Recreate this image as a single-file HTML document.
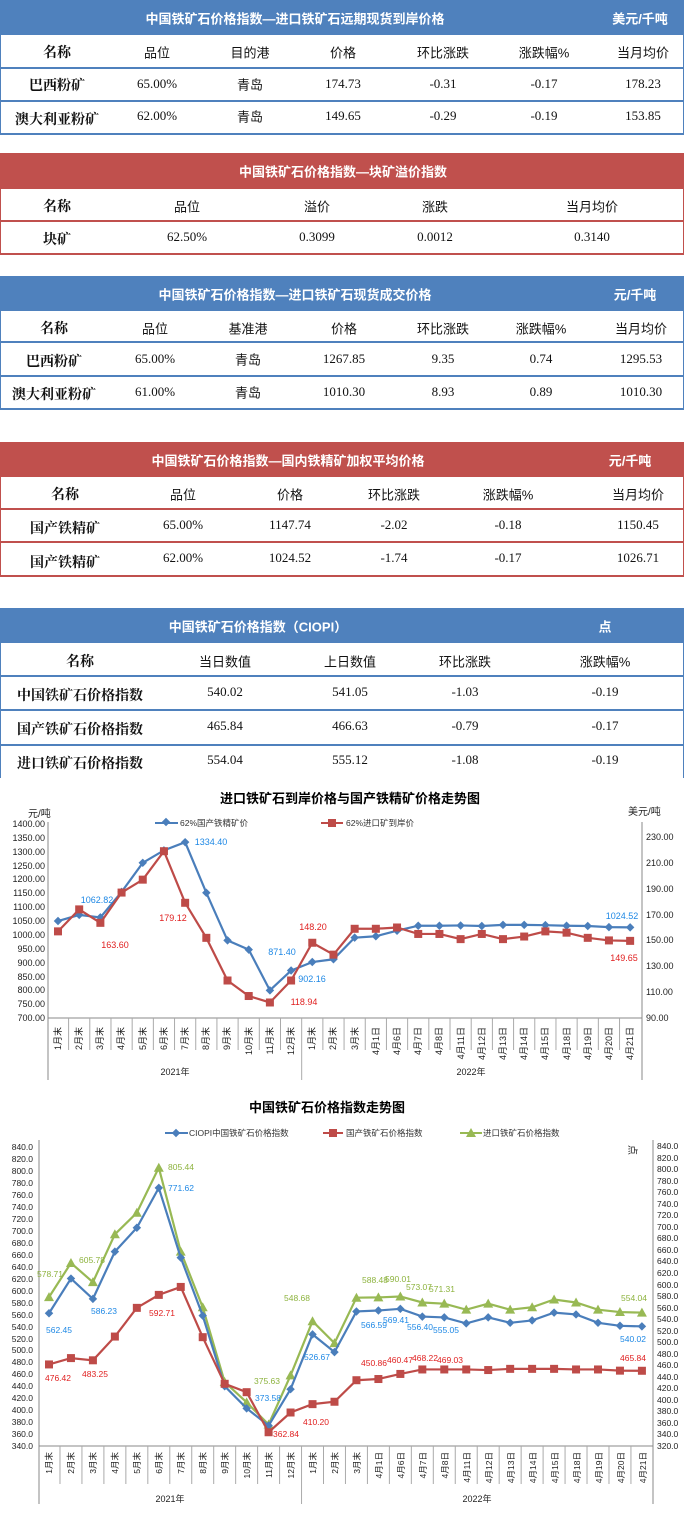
<!DOCTYPE html>
<html><head><meta charset="utf-8">
<style>
*{margin:0;padding:0;box-sizing:border-box}
body{width:684px;height:1524px;position:relative;background:#fff;font-family:"Liberation Sans","Noto Sans CJK SC",sans-serif;overflow:hidden}
.band{position:absolute;left:0;width:684px;color:#fff;font-weight:bold;font-size:13px}
.band span{position:absolute;top:50%;transform:translate(-50%,-50%);white-space:nowrap}
.b{background:#4F81BD}.r{background:#C0504D}
.hl{position:absolute;left:0;width:684px;height:2px}
.hb{background:#4F81BD}.hr{background:#C0504D}
.vl{position:absolute;width:1px}
.c{position:absolute;transform:translate(-50%,-50%);white-space:nowrap;font-size:13px;color:#111}
.bold{font-weight:bold;font-family:"Liberation Serif","Noto Serif CJK SC",serif;font-size:14px}
.num{font-family:"Liberation Serif","Noto Serif CJK SC",serif}
svg{position:absolute;left:0}
svg text{font-family:"Liberation Sans","Noto Sans CJK SC",sans-serif}
</style></head><body>

<!-- Table 1 -->
<div class="band b" style="top:0;height:35px"><span style="left:295px">中国铁矿石价格指数—进口铁矿石远期现货到岸价格</span><span style="left:640px">美元/千吨</span></div>
<div class="vl hb" style="left:0;top:35px;height:100px"></div><div class="vl hb" style="left:683px;top:35px;height:100px"></div>
<div class="hl hb" style="top:67px"></div><div class="hl hb" style="top:100px"></div><div class="hl hb" style="top:133px"></div>
<div class="c bold" style="left:57px;top:52px">名称</div><div class="c" style="left:157px;top:52px">品位</div><div class="c" style="left:250px;top:52px">目的港</div><div class="c" style="left:343px;top:52px">价格</div><div class="c" style="left:443px;top:52px">环比涨跌</div><div class="c" style="left:544px;top:52px">涨跌幅%</div><div class="c" style="left:643px;top:52px">当月均价</div>
<div class="c bold" style="left:57px;top:85px">巴西粉矿</div><div class="c num" style="left:157px;top:84px">65.00%</div><div class="c" style="left:250px;top:84px">青岛</div><div class="c num" style="left:343px;top:84px">174.73</div><div class="c num" style="left:443px;top:84px">-0.31</div><div class="c num" style="left:544px;top:84px">-0.17</div><div class="c num" style="left:643px;top:84px">178.23</div>
<div class="c bold" style="left:57px;top:119px">澳大利亚粉矿</div><div class="c num" style="left:157px;top:116px">62.00%</div><div class="c" style="left:250px;top:116px">青岛</div><div class="c num" style="left:343px;top:116px">149.65</div><div class="c num" style="left:443px;top:116px">-0.29</div><div class="c num" style="left:544px;top:116px">-0.19</div><div class="c num" style="left:643px;top:116px">153.85</div>

<!-- Table 2 -->
<div class="band r" style="top:153px;height:36px"><span style="left:343px">中国铁矿石价格指数—块矿溢价指数</span></div>
<div class="vl hr" style="left:0;top:189px;height:66px"></div><div class="vl hr" style="left:683px;top:189px;height:66px"></div>
<div class="hl hr" style="top:220px"></div><div class="hl hr" style="top:253px"></div>
<div class="c bold" style="left:57px;top:206px">名称</div><div class="c" style="left:187px;top:206px">品位</div><div class="c" style="left:317px;top:206px">溢价</div><div class="c" style="left:435px;top:206px">涨跌</div><div class="c" style="left:592px;top:206px">当月均价</div>
<div class="c bold" style="left:57px;top:239px">块矿</div><div class="c num" style="left:187px;top:237px">62.50%</div><div class="c num" style="left:317px;top:237px">0.3099</div><div class="c num" style="left:435px;top:237px">0.0012</div><div class="c num" style="left:592px;top:237px">0.3140</div>

<!-- Table 3 -->
<div class="band b" style="top:276px;height:35px"><span style="left:295px">中国铁矿石价格指数—进口铁矿石现货成交价格</span><span style="left:635px">元/千吨</span></div>
<div class="vl hb" style="left:0;top:311px;height:99px"></div><div class="vl hb" style="left:683px;top:311px;height:99px"></div>
<div class="hl hb" style="top:341px"></div><div class="hl hb" style="top:375px"></div><div class="hl hb" style="top:408px"></div>
<div class="c bold" style="left:54px;top:328px">名称</div><div class="c" style="left:155px;top:328px">品位</div><div class="c" style="left:248px;top:328px">基准港</div><div class="c" style="left:344px;top:328px">价格</div><div class="c" style="left:443px;top:328px">环比涨跌</div><div class="c" style="left:541px;top:328px">涨跌幅%</div><div class="c" style="left:641px;top:328px">当月均价</div>
<div class="c bold" style="left:54px;top:361px">巴西粉矿</div><div class="c num" style="left:155px;top:359px">65.00%</div><div class="c" style="left:248px;top:359px">青岛</div><div class="c num" style="left:344px;top:359px">1267.85</div><div class="c num" style="left:443px;top:359px">9.35</div><div class="c num" style="left:541px;top:359px">0.74</div><div class="c num" style="left:641px;top:359px">1295.53</div>
<div class="c bold" style="left:54px;top:394px">澳大利亚粉矿</div><div class="c num" style="left:155px;top:392px">61.00%</div><div class="c" style="left:248px;top:392px">青岛</div><div class="c num" style="left:344px;top:392px">1010.30</div><div class="c num" style="left:443px;top:392px">8.93</div><div class="c num" style="left:541px;top:392px">0.89</div><div class="c num" style="left:641px;top:392px">1010.30</div>

<!-- Table 4 -->
<div class="band r" style="top:442px;height:35px"><span style="left:288px">中国铁矿石价格指数—国内铁精矿加权平均价格</span><span style="left:630px">元/千吨</span></div>
<div class="vl hr" style="left:0;top:477px;height:100px"></div><div class="vl hr" style="left:683px;top:477px;height:100px"></div>
<div class="hl hr" style="top:508px"></div><div class="hl hr" style="top:541px"></div><div class="hl hr" style="top:575px"></div>
<div class="c bold" style="left:65px;top:494px">名称</div><div class="c" style="left:183px;top:494px">品位</div><div class="c" style="left:290px;top:494px">价格</div><div class="c" style="left:394px;top:494px">环比涨跌</div><div class="c" style="left:508px;top:494px">涨跌幅%</div><div class="c" style="left:638px;top:494px">当月均价</div>
<div class="c bold" style="left:65px;top:528px">国产铁精矿</div><div class="c num" style="left:183px;top:525px">65.00%</div><div class="c num" style="left:290px;top:525px">1147.74</div><div class="c num" style="left:394px;top:525px">-2.02</div><div class="c num" style="left:508px;top:525px">-0.18</div><div class="c num" style="left:638px;top:525px">1150.45</div>
<div class="c bold" style="left:65px;top:562px">国产铁精矿</div><div class="c num" style="left:183px;top:558px">62.00%</div><div class="c num" style="left:290px;top:558px">1024.52</div><div class="c num" style="left:394px;top:558px">-1.74</div><div class="c num" style="left:508px;top:558px">-0.17</div><div class="c num" style="left:638px;top:558px">1026.71</div>

<!-- Table 5 -->
<div class="band b" style="top:608px;height:35px"><span style="left:258px">中国铁矿石价格指数（CIOPI）</span><span style="left:605px">点</span></div>
<div class="vl hb" style="left:0;top:643px;height:135px"></div><div class="vl hb" style="left:683px;top:643px;height:135px"></div>
<div class="hl hb" style="top:675px"></div><div class="hl hb" style="top:709px"></div><div class="hl hb" style="top:744px"></div>
<div class="c bold" style="left:80px;top:661px">名称</div><div class="c" style="left:225px;top:661px">当日数值</div><div class="c" style="left:350px;top:661px">上日数值</div><div class="c" style="left:465px;top:661px">环比涨跌</div><div class="c" style="left:605px;top:661px">涨跌幅%</div>
<div class="c bold" style="left:80px;top:695px">中国铁矿石价格指数</div><div class="c num" style="left:225px;top:692px">540.02</div><div class="c num" style="left:350px;top:692px">541.05</div><div class="c num" style="left:465px;top:692px">-1.03</div><div class="c num" style="left:605px;top:692px">-0.19</div>
<div class="c bold" style="left:80px;top:729px">国产铁矿石价格指数</div><div class="c num" style="left:225px;top:726px">465.84</div><div class="c num" style="left:350px;top:726px">466.63</div><div class="c num" style="left:465px;top:726px">-0.79</div><div class="c num" style="left:605px;top:726px">-0.17</div>
<div class="c bold" style="left:80px;top:763px">进口铁矿石价格指数</div><div class="c num" style="left:225px;top:760px">554.04</div><div class="c num" style="left:350px;top:760px">555.12</div><div class="c num" style="left:465px;top:760px">-1.08</div><div class="c num" style="left:605px;top:760px">-0.19</div>

<!-- Chart 1 -->
<svg id="c1" width="684" height="310" viewBox="0 780 684 310" style="top:780px">
<text x="350" y="803" font-size="13" font-weight="bold" text-anchor="middle" fill="#000">进口铁矿石到岸价格与国产铁精矿价格走势图</text>
<text x="28" y="817" font-size="10" fill="#222">元/吨</text>
<text x="628" y="815" font-size="10" fill="#222">美元/吨</text>
<line x1="155" y1="823" x2="178" y2="823" stroke="#4A7EBB" stroke-width="2"/><rect x="163" y="819" width="6" height="6" transform="rotate(45 166 822)" fill="#4A7EBB"/>
<text x="180" y="826" font-size="8.5" fill="#333">62%国产铁精矿价</text>
<line x1="321" y1="823" x2="343" y2="823" stroke="#BE4B48" stroke-width="2"/><rect x="328" y="819" width="8" height="8" fill="#BE4B48"/>
<text x="346" y="826" font-size="8.5" fill="#333">62%进口矿到岸价</text>
<g font-size="9" fill="#222" text-anchor="end">
<text x="45" y="827">1400.00</text><text x="45" y="841">1350.00</text><text x="45" y="855">1300.00</text><text x="45" y="869">1250.00</text><text x="45" y="882">1200.00</text><text x="45" y="896">1150.00</text><text x="45" y="910">1100.00</text><text x="45" y="924">1050.00</text><text x="45" y="938">1000.00</text><text x="45" y="952">950.00</text><text x="45" y="966">900.00</text><text x="45" y="980">850.00</text><text x="45" y="993">800.00</text><text x="45" y="1007">750.00</text><text x="45" y="1021">700.00</text>
</g>
<g font-size="9" fill="#222">
<text x="646" y="840">230.00</text><text x="646" y="866">210.00</text><text x="646" y="892">190.00</text><text x="646" y="918">170.00</text><text x="646" y="943">150.00</text><text x="646" y="969">130.00</text><text x="646" y="995">110.00</text><text x="646" y="1021">90.00</text>
</g>
<g id="c1ax"></g>
<g font-size="9" fill="#222" id="c1cat" text-anchor="end">
<text transform="translate(61,1027) rotate(-90)">1月末</text><text transform="translate(82,1027) rotate(-90)">2月末</text><text transform="translate(103,1027) rotate(-90)">3月末</text><text transform="translate(124,1027) rotate(-90)">4月末</text><text transform="translate(146,1027) rotate(-90)">5月末</text><text transform="translate(167,1027) rotate(-90)">6月末</text><text transform="translate(188,1027) rotate(-90)">7月末</text><text transform="translate(209,1027) rotate(-90)">8月末</text><text transform="translate(230,1027) rotate(-90)">9月末</text><text transform="translate(252,1027) rotate(-90)">10月末</text><text transform="translate(273,1027) rotate(-90)">11月末</text><text transform="translate(294,1027) rotate(-90)">12月末</text><text transform="translate(315,1027) rotate(-90)">1月末</text><text transform="translate(336,1027) rotate(-90)">2月末</text><text transform="translate(358,1027) rotate(-90)">3月末</text><text transform="translate(379,1027) rotate(-90)">4月1日</text><text transform="translate(400,1027) rotate(-90)">4月6日</text><text transform="translate(421,1027) rotate(-90)">4月7日</text><text transform="translate(442,1027) rotate(-90)">4月8日</text><text transform="translate(464,1027) rotate(-90)">4月11日</text><text transform="translate(485,1027) rotate(-90)">4月12日</text><text transform="translate(506,1027) rotate(-90)">4月13日</text><text transform="translate(527,1027) rotate(-90)">4月14日</text><text transform="translate(548,1027) rotate(-90)">4月15日</text><text transform="translate(570,1027) rotate(-90)">4月18日</text><text transform="translate(591,1027) rotate(-90)">4月19日</text><text transform="translate(612,1027) rotate(-90)">4月20日</text><text transform="translate(633,1027) rotate(-90)">4月21日</text>
</g>
<text x="175" y="1075" font-size="9" fill="#222" text-anchor="middle">2021年</text>
<text x="471" y="1075" font-size="9" fill="#222" text-anchor="middle">2022年</text>
<g id="c1s"></g>
<g font-size="9" text-anchor="middle">
<text x="211" y="845" fill="#1E88E5">1334.40</text><text x="97" y="903" fill="#1E88E5">1062.82</text><text x="282" y="955" fill="#1E88E5">871.40</text><text x="312" y="982" fill="#1E88E5">902.16</text><text x="622" y="919" fill="#1E88E5">1024.52</text>
<text x="115" y="948" fill="#E02020">163.60</text><text x="173" y="921" fill="#E02020">179.12</text><text x="304" y="1005" fill="#E02020">118.94</text><text x="313" y="930" fill="#E02020">148.20</text><text x="624" y="961" fill="#E02020">149.65</text>
</g>
</svg>

<!-- Chart 2 -->
<svg id="c2" width="684" height="429" viewBox="0 1095 684 429" style="top:1095px">
<text x="327" y="1112" font-size="13" font-weight="bold" text-anchor="middle" fill="#000">中国铁矿石价格指数走势图</text>
<line x1="165" y1="1133" x2="188" y2="1133" stroke="#4A7EBB" stroke-width="2"/><rect x="173" y="1130" width="6" height="6" transform="rotate(45 176 1133)" fill="#4A7EBB"/>
<text x="189" y="1136" font-size="8.5" fill="#333">CIOPI中国铁矿石价格指数</text>
<line x1="323" y1="1133" x2="343" y2="1133" stroke="#BE4B48" stroke-width="2"/><rect x="329" y="1129" width="8" height="8" fill="#BE4B48"/>
<text x="346" y="1136" font-size="8.5" fill="#333">国产铁矿石价格指数</text>
<line x1="460" y1="1133" x2="482" y2="1133" stroke="#98B954" stroke-width="2"/><polygon points="471,1128 476,1137 466,1137" fill="#98B954"/>
<text x="483" y="1136" font-size="8.5" fill="#333">进口铁矿石价格指数</text>
<text x="0" y="0" font-size="10" fill="#222" transform="translate(629,1145) rotate(90)">点</text>
<g font-size="8.5" fill="#222" text-anchor="end">
<text x="33" y="1150">840.0</text><text x="33" y="1162">820.0</text><text x="33" y="1174">800.0</text><text x="33" y="1186">780.0</text><text x="33" y="1198">760.0</text><text x="33" y="1210">740.0</text><text x="33" y="1222">720.0</text><text x="33" y="1234">700.0</text><text x="33" y="1246">680.0</text><text x="33" y="1258">660.0</text><text x="33" y="1270">640.0</text><text x="33" y="1282">620.0</text><text x="33" y="1294">600.0</text><text x="33" y="1306">580.0</text><text x="33" y="1318">560.0</text><text x="33" y="1330">540.0</text><text x="33" y="1342">520.0</text><text x="33" y="1353">500.0</text><text x="33" y="1365">480.0</text><text x="33" y="1377">460.0</text><text x="33" y="1389">440.0</text><text x="33" y="1401">420.0</text><text x="33" y="1413">400.0</text><text x="33" y="1425">380.0</text><text x="33" y="1437">360.0</text><text x="33" y="1449">340.0</text>
</g>
<g font-size="8.5" fill="#222">
<text x="657" y="1149">840.0</text><text x="657" y="1161">820.0</text><text x="657" y="1172">800.0</text><text x="657" y="1184">780.0</text><text x="657" y="1195">760.0</text><text x="657" y="1207">740.0</text><text x="657" y="1218">720.0</text><text x="657" y="1230">700.0</text><text x="657" y="1241">680.0</text><text x="657" y="1253">660.0</text><text x="657" y="1264">640.0</text><text x="657" y="1276">620.0</text><text x="657" y="1288">600.0</text><text x="657" y="1299">580.0</text><text x="657" y="1311">560.0</text><text x="657" y="1322">540.0</text><text x="657" y="1334">520.0</text><text x="657" y="1345">500.0</text><text x="657" y="1357">480.0</text><text x="657" y="1368">460.0</text><text x="657" y="1380">440.0</text><text x="657" y="1391">420.0</text><text x="657" y="1403">400.0</text><text x="657" y="1414">380.0</text><text x="657" y="1426">360.0</text><text x="657" y="1437">340.0</text><text x="657" y="1449">320.0</text>
</g>
<g id="c2ax"></g>
<g font-size="8.5" fill="#222" text-anchor="end">
<text transform="translate(52,1452) rotate(-90)">1月末</text><text transform="translate(74,1452) rotate(-90)">2月末</text><text transform="translate(96,1452) rotate(-90)">3月末</text><text transform="translate(118,1452) rotate(-90)">4月末</text><text transform="translate(140,1452) rotate(-90)">5月末</text><text transform="translate(162,1452) rotate(-90)">6月末</text><text transform="translate(184,1452) rotate(-90)">7月末</text><text transform="translate(206,1452) rotate(-90)">8月末</text><text transform="translate(228,1452) rotate(-90)">9月末</text><text transform="translate(250,1452) rotate(-90)">10月末</text><text transform="translate(272,1452) rotate(-90)">11月末</text><text transform="translate(294,1452) rotate(-90)">12月末</text><text transform="translate(316,1452) rotate(-90)">1月末</text><text transform="translate(338,1452) rotate(-90)">2月末</text><text transform="translate(360,1452) rotate(-90)">3月末</text><text transform="translate(382,1452) rotate(-90)">4月1日</text><text transform="translate(404,1452) rotate(-90)">4月6日</text><text transform="translate(426,1452) rotate(-90)">4月7日</text><text transform="translate(448,1452) rotate(-90)">4月8日</text><text transform="translate(470,1452) rotate(-90)">4月11日</text><text transform="translate(492,1452) rotate(-90)">4月12日</text><text transform="translate(514,1452) rotate(-90)">4月13日</text><text transform="translate(536,1452) rotate(-90)">4月14日</text><text transform="translate(558,1452) rotate(-90)">4月15日</text><text transform="translate(580,1452) rotate(-90)">4月18日</text><text transform="translate(602,1452) rotate(-90)">4月19日</text><text transform="translate(624,1452) rotate(-90)">4月20日</text><text transform="translate(646,1452) rotate(-90)">4月21日</text>
</g>
<text x="170" y="1502" font-size="9" fill="#222" text-anchor="middle">2021年</text>
<text x="477" y="1502" font-size="9" fill="#222" text-anchor="middle">2022年</text>
<g id="c2s"></g>
<g font-size="8.5" text-anchor="middle">
<g fill="#8DB33E"><text x="50" y="1277">578.71</text><text x="92" y="1263">605.78</text><text x="181" y="1170">805.44</text><text x="267" y="1384">375.63</text><text x="297" y="1301">548.68</text><text x="375" y="1283">588.48</text><text x="398" y="1282">590.01</text><text x="419" y="1290">573.07</text><text x="442" y="1292">571.31</text><text x="634" y="1301">554.04</text></g>
<g fill="#1E88E5"><text x="59" y="1333">562.45</text><text x="104" y="1314">586.23</text><text x="181" y="1191">771.62</text><text x="268" y="1401">373.58</text><text x="317" y="1360">526.67</text><text x="374" y="1328">566.59</text><text x="396" y="1323">569.41</text><text x="420" y="1330">556.40</text><text x="446" y="1333">555.05</text><text x="633" y="1342">540.02</text></g>
<g fill="#E02020"><text x="58" y="1381">476.42</text><text x="95" y="1377">483.25</text><text x="162" y="1316">592.71</text><text x="286" y="1437">362.84</text><text x="316" y="1425">410.20</text><text x="374" y="1366">450.86</text><text x="400" y="1363">460.47</text><text x="425" y="1361">468.22</text><text x="450" y="1363">469.03</text><text x="633" y="1361">465.84</text></g>
</g>
</svg>

<script>
var NS="http://www.w3.org/2000/svg";
function el(p,t,a){var e=document.createElementNS(NS,t);for(var k in a)e.setAttribute(k,a[k]);p.appendChild(e);return e;}
function axes(g,L,R,top,bot,x0,dx,n,catBot,sepBot){
  el(g,"line",{x1:L,y1:top,x2:L,y2:sepBot,stroke:"#888"});
  el(g,"line",{x1:R,y1:top,x2:R,y2:sepBot,stroke:"#888"});
  el(g,"line",{x1:L,y1:bot,x2:R,y2:bot,stroke:"#888"});
  for(var i=1;i<n;i++){var x=x0+(i-0.5)*dx;el(g,"line",{x1:x,y1:bot,x2:x,y2:(i==12?sepBot:catBot),stroke:"#aaa"});}
}
function series(g,xs,ys,col,mk){
  var pts=xs.map(function(x,i){return x+","+ys[i]}).join(" ");
  el(g,"polyline",{points:pts,fill:"none",stroke:col,"stroke-width":2.2});
  xs.forEach(function(x,i){var y=ys[i];
    if(mk=="d")el(g,"rect",{x:x-3,y:y-3,width:6,height:6,fill:col,transform:"rotate(45 "+x+" "+y+")"});
    else if(mk=="s")el(g,"rect",{x:x-4,y:y-4,width:8,height:8,fill:col});
    else el(g,"polygon",{points:(x)+","+(y-5)+" "+(x+5)+","+(y+4)+" "+(x-5)+","+(y+4),fill:col});
  });
}
// chart1
(function(){
  var g=document.getElementById("c1ax");
  var x0=58,dx=21.19;
  axes(g,48,642,822,1018,x0,dx,28,1050,1080);
  var s=document.getElementById("c1s");
  var blue=[1050,1072,1063,1155,1260,1305,1334.4,1152,980,947,800,871.4,902,912,990,995,1015,1033,1033,1034,1032,1036,1036,1035,1033,1032,1028,1027];
  var red=[157,174,163.6,187,197,219,179.1,152,119,107,102,119,148.2,139,159,159,160,155,155,151,155,151,153,157,156,152,150,149.65];
  var xs=blue.map(function(_,i){return x0+i*dx});
  series(s,xs,blue.map(function(v){return 824+(1400-v)/50*13.86}),"#4A7EBB","d");
  series(s,xs,red.map(function(v){return 1018-(v-90)/20*25.86}),"#BE4B48","s");
})();
// chart2
(function(){
  var g=document.getElementById("c2ax");
  var x0=49,dx=21.96;
  axes(g,39,653,1140,1446,x0,dx,28,1484,1504);
  var s=document.getElementById("c2s");
  var blue=[562,620,586,665,705,771.6,655,558,440,403,374,435,526.7,497,565,566.6,569.4,556.4,555,545,555,546,550,563,560,546,541,540];
  var green=[589,646,614,694,730,805.4,665,572,447,413,376,458,548.7,512,588,588.5,590,580,578,568,578,568,572,585,580,568,564,563];
  var red=[476.4,487,483.3,523,571,592.7,606,522,444,430,363,396,410,414,450,452,460.5,468,468,468,467,469,469,469,468,468,466,465.8];
  var xs=blue.map(function(_,i){return x0+i*dx});
  var f=function(v){return 1147+(840-v)*0.598};
  series(s,xs,green.map(f),"#98B954","t");
  series(s,xs,blue.map(f),"#4A7EBB","d");
  series(s,xs,red.map(f),"#BE4B48","s");
})();
</script>
</body></html>
